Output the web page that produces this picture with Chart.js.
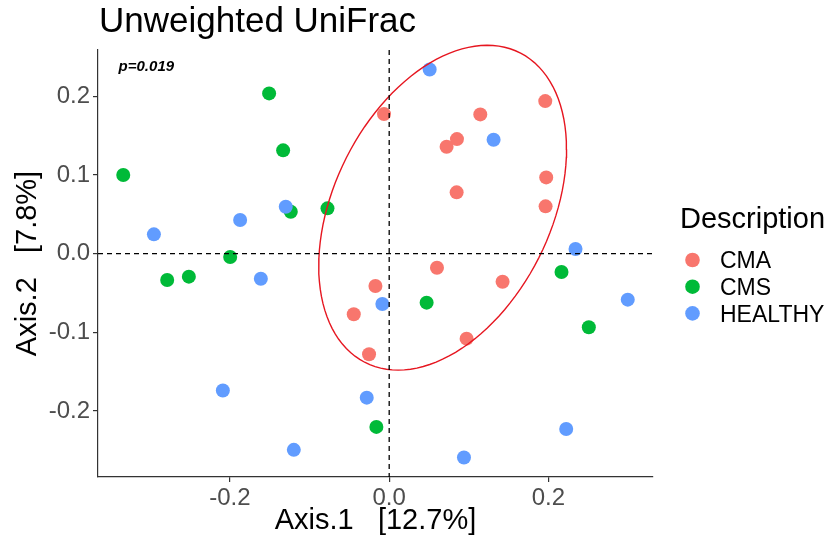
<!DOCTYPE html>
<html>
<head>
<meta charset="utf-8">
<script src="https://cdn.jsdelivr.net/npm/chart.js@4.4.1/dist/chart.umd.min.js"></script>
<style>
  html, body { margin: 0; padding: 0; background: #fff; }
  #wrap { width: 837px; height: 544px; }
</style>
</head>
<body>
<div id="wrap"><canvas id="pcoa" width="837" height="544"></canvas></div>
<script>
  // PCoA coordinates (Axis.1, Axis.2)
  const groups = ['CMA', 'CMS', 'HEALTHY'];
  const groupColors = ['#F8766D', '#00BA38', '#619CFF'];

  const cmaX = [-0.0065, 0.196, 0.1144, 0.0851, 0.0721, 0.1972, 0.0847, 0.1964, 0.060, 0.1424, -0.0173, -0.0445, -0.0253, 0.0972];
  const cmaY = [0.1775, 0.194, 0.1771, 0.1457, 0.136, 0.097, 0.078, 0.0602, -0.0178, -0.0356, -0.041, -0.077, -0.1278, -0.108];

  const cmsX = [-0.1508, -0.1332, -0.334, -0.1236, -0.0775, -0.1997, -0.2788, -0.2516, -0.0161, 0.2164, 0.047, 0.2507];
  const cmsY = [0.2038, 0.1314, 0.100, 0.0534, 0.0577, -0.0042, -0.0334, -0.0292, -0.2202, -0.0233, -0.0622, -0.0935];

  const healthyX = [0.0508, 0.1311, -0.1299, -0.1872, -0.2955, 0.234, -0.1612, -0.0086, -0.2089, -0.0282, -0.1198, 0.2996, 0.2223, 0.0939];
  const healthyY = [0.2343, 0.1449, 0.0597, 0.0428, 0.0246, 0.006, -0.0318, -0.0639, -0.174, -0.183, -0.2494, -0.0584, -0.2228, -0.2592];

  // CMA confidence ellipse: centre, half extents, correlation
  const ellipseCenter = [0.0671, 0.0585];
  const ellipseHalfExtent = [0.1556, 0.2065];
  const ellipseRho = 0.36;

  const xTicks = [-0.2, 0.0, 0.2];
  const yTicks = [-0.2, -0.1, 0.0, 0.1, 0.2];
  const xLimits = [-0.3657, 0.3313];
  const yLimits = [-0.2839, 0.259];

  const pValue = 'p=0.019';
  const pValueAt = [-0.305, 0.237];
  const family = "'Liberation Sans', Arial, sans-serif";

  function ellipsePath(center, half, rho, segments) {
    const phi = Math.acos(rho);
    const out = [];
    for (let k = 0; k <= segments; k++) {
      const t = k * 2 * Math.PI / segments;
      out.push({x: center[0] + half[0] * Math.cos(t), y: center[1] + half[1] * Math.cos(t - phi)});
    }
    return out;
  }

  function toPoints(xs, ys) {
    return xs.map((v, i) => ({x: v, y: ys[i]}));
  }

  const groupData = [toPoints(cmaX, cmaY), toPoints(cmsX, cmsY), toPoints(healthyX, healthyY)];

  const pointSets = groups.map((g, i) => ({
    label: g,
    data: groupData[i],
    backgroundColor: groupColors[i],
    borderWidth: 0,
    pointRadius: 7,
    pointHoverRadius: 7,
    order: 3 - i
  }));

  const ellipseSet = {
    label: 'CMA ellipse',
    data: ellipsePath(ellipseCenter, ellipseHalfExtent, ellipseRho, 120),
    showLine: true,
    borderColor: 'rgb(230,22,32)',
    borderWidth: 1.4,
    pointRadius: 0,
    fill: false,
    tension: 0,
    clip: false,
    order: 0
  };

  const decorations = {
    id: 'decorations',
    afterDatasetsDraw(chart) {
      const {ctx, chartArea, scales: {x, y}} = chart;
      const x0 = x.getPixelForValue(0), y0 = y.getPixelForValue(0);
      ctx.save();
      ctx.strokeStyle = '#000';
      ctx.lineWidth = 1.3;
      ctx.setLineDash([5, 4]);
      ctx.beginPath();
      ctx.moveTo(chartArea.left, y0);
      ctx.lineTo(chartArea.right, y0);
      ctx.moveTo(x0, chartArea.top);
      ctx.lineTo(x0, chartArea.bottom);
      ctx.stroke();
      ctx.restore();
    },
    afterDraw(chart) {
      const {ctx, scales: {x, y}} = chart;
      ctx.save();
      ctx.fillStyle = '#000';
      ctx.textBaseline = 'alphabetic';
      ctx.textAlign = 'left';
      ctx.font = '35px ' + family;
      ctx.fillText('Unweighted UniFrac', 99, 32);

      ctx.font = 'italic bold 15px ' + family;
      ctx.textAlign = 'center';
      ctx.textBaseline = 'middle';
      ctx.fillText(pValue, x.getPixelForValue(pValueAt[0]), y.getPixelForValue(pValueAt[1]));

      // legend
      ctx.textAlign = 'left';
      ctx.textBaseline = 'alphabetic';
      ctx.font = '29px ' + family;
      ctx.fillText('Description', 680, 228);
      ctx.font = '23px ' + family;
      groups.forEach((g, i) => {
        const cy = 260 + i * 26.7;
        ctx.fillStyle = groupColors[i];
        ctx.beginPath();
        ctx.arc(692.5, cy, 7.3, 0, Math.PI * 2);
        ctx.fill();
        ctx.fillStyle = '#000';
        ctx.fillText(g, 720, cy + 8.3);
      });
      ctx.restore();
    }
  };

  const axisColor = '#333333';
  const tickFont = {size: 24, family: family};
  const titleFont = {size: 29, family: family};

  new Chart(document.getElementById('pcoa'), {
    type: 'scatter',
    data: {datasets: [ellipseSet].concat(pointSets)},
    options: {
      responsive: false,
      animation: false,
      devicePixelRatio: 1,
      layout: {padding: {top: 50, right: 184, bottom: 0, left: 0}},
      plugins: {
        legend: {display: false},
        tooltip: {enabled: false},
        title: {display: false}
      },
      scales: {
        x: {
          type: 'linear',
          min: xLimits[0],
          max: xLimits[1],
          afterFit(scale) { scale.height = 67; },
          afterBuildTicks(scale) { scale.ticks = xTicks.map(v => ({value: v})); },
          ticks: {
            callback: v => v.toFixed(1),
            color: '#4D4D4D',
            font: tickFont,
            padding: 2,
            maxRotation: 0
          },
          grid: {drawOnChartArea: false, drawTicks: true, tickLength: 5, color: axisColor, lineWidth: 1.2},
          border: {display: true, color: axisColor, width: 1.2},
          title: {display: true, text: 'Axis.1   [12.7%]', color: '#000', font: titleFont, padding: {top: 0, bottom: 6}}
        },
        y: {
          type: 'linear',
          min: yLimits[0],
          max: yLimits[1],
          afterFit(scale) { scale.width = 98; },
          afterBuildTicks(scale) { scale.ticks = yTicks.map(v => ({value: v})); },
          ticks: {
            callback: v => v.toFixed(1),
            color: '#4D4D4D',
            font: tickFont,
            padding: 3
          },
          grid: {drawOnChartArea: false, drawTicks: true, tickLength: 5, color: axisColor, lineWidth: 1.2},
          border: {display: true, color: axisColor, width: 1.2},
          title: {display: true, text: 'Axis.2   [7.8%]', color: '#000', font: titleFont, padding: {top: 11, bottom: 0}}
        }
      }
    },
    plugins: [decorations]
  });
</script>
</body>
</html>
